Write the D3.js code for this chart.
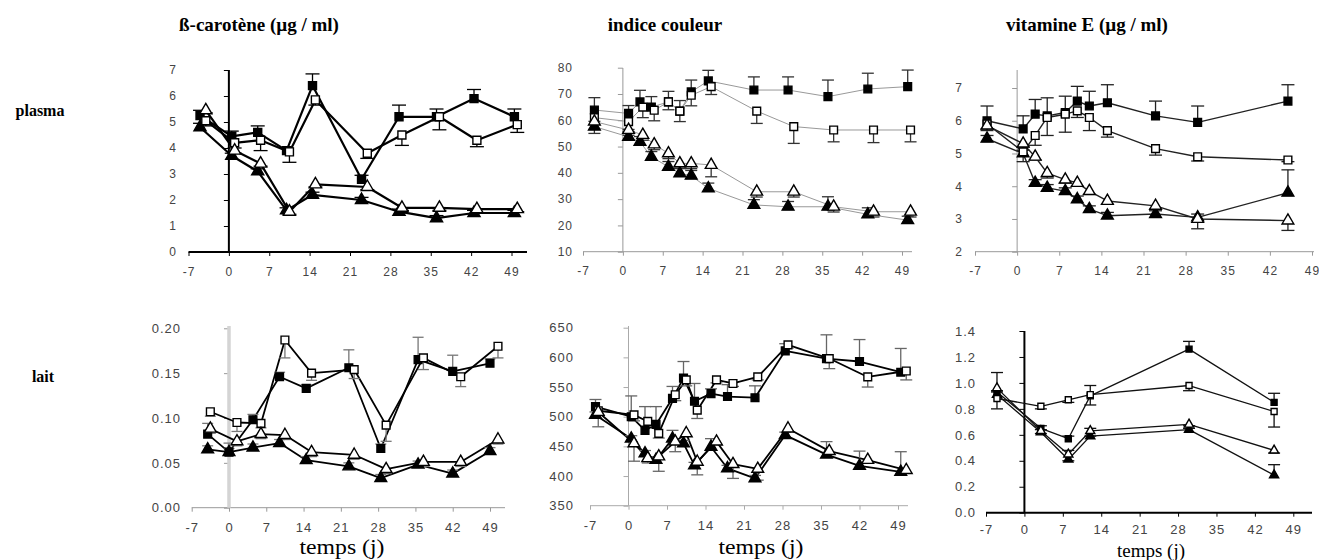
<!DOCTYPE html>
<html lang="fr">
<head>
<meta charset="utf-8">
<title>ß-carotène, indice couleur, vitamine E</title>
<script src="https://d3js.org/d3.v7.min.js"></script>
<style>
  body { margin: 0; background: #fff; }
  .head { font: bold 19px "Liberation Serif", "Times New Roman", serif; fill: #000; }
  .xlab { font: 20px "Liberation Serif", "Times New Roman", serif; fill: #000; }
  .tick text { font-family: "Liberation Sans", Arial, sans-serif; fill: #444; letter-spacing: 1px; }
</style>
</head>
<body>
<script>
"use strict";

// ---- data ----
const xTicks = [-7, 0, 7, 14, 21, 28, 35, 42, 49];
const colTitles = ["ß-carotène (µg / ml)", "indice couleur", "vitamine E (µg / ml)"];
const rowTitles = ["plasma", "lait"];

// ß-carotène, plasma
const bcpDaysF = [-5, 0.5, 5, 10, 14.5, 23, 29.5, 36, 42.5, 49.5];
const bcpDaysO = [-4, 1, 5.5, 10.5, 15, 24, 30, 36.5, 43, 50];
const bcpFS = [5.25, 4.45, 4.6, 3.9, 6.4, 2.8, 5.2, 5.2, 5.9, 5.2];
const bcpFSErr = [0.2, 0.2, 0.25, 0.1, 0.45, 0.15, 0.45, 0.3, 0.35, 0.3];
const bcpOS = [5.05, 4.2, 4.3, 3.85, 5.85, 3.8, 4.5, 5.2, 4.3, 4.9];
const bcpOSErr = [0.2, 0.2, 0.4, 0.4, 0.2, 0.2, 0.4, 0.5, 0.25, 0.3];
const bcpFT = [4.8, 3.7, 3.1, 1.6, 2.2, 2.0, 1.55, 1.3, 1.5, 1.5];
const bcpFTErr = [0.15, 0.1, 0.1, 0.1, 0.1, 0.1, 0.1, 0.1, 0.1, 0.1];
const bcpOT = [5.45, 3.9, 3.4, 1.55, 2.6, 2.5, 1.7, 1.7, 1.65, 1.65];
const bcpOTErr = [0.1, 0.1, 0.1, 0.1, 0.1, 0.1, 0.1, 0.1, 0.15, 0.1];

// indice couleur, plasma
const icpDaysF = [-5, 1, 3, 5, 8, 10, 12, 15, 23, 29, 36, 43, 50];
const icpDaysO = [-5, 1, 3.5, 5.5, 8, 10, 12, 15.5, 23.5, 30, 37, 44, 50.5];
const icpFS = [63.9, 62.6, 67, 65, 67, 63.5, 70.8, 75, 71.5, 71.5, 69, 71.9, 72.8];
const icpFSErr = [4.7, 3, 4.4, 4, 4, 4, 4.5, 4, 5, 5, 6.3, 6, 6.3];
const icpOS = [61, 59.5, 65, 63.8, 67, 63.5, 69.5, 72.8, 63.5, 57.6, 56.3, 56.3, 56.3];
const icpOSErr = [6, 3, 4, 4, 3, 4, 4, 3, 4.7, 6.4, 4.5, 4.8, 4.5];
const icpFT = [57.6, 53.7, 51.8, 46.1, 42.3, 39.8, 38.9, 34.1, 27.8, 27.1, 27.1, 24.2, 22];
const icpFTErr = [2, 2, 2, 2, 2, 2, 2, 2, 2, 2, 3.8, 2.5, 1.5];
const icpOT = [59.5, 56.3, 54.4, 50.8, 47.4, 43.6, 43.6, 43, 32.8, 32.8, 27.1, 25.2, 25.2];
const icpOTErr = [3, 2, 2, 2, 2, 2, 2, 4.5, 2, 2, 2, 2, 2];

// vitamine E, plasma
const vepDays = [-5, 1, 3, 5, 8, 10, 12, 15, 23, 30, 45];
const vepFS = [6.0, 5.75, 6.2, 6.15, 6.25, 6.6, 6.45, 6.55, 6.15, 5.95, 6.6];
const vepFSErr = [0.45, 0.4, 0.45, 0.55, 0.5, 0.45, 0.45, 0.55, 0.45, 0.5, 0.5];
const vepOS = [5.9, 5.05, 5.55, 6.1, 6.2, 6.3, 6.1, 5.7, 5.15, 4.9, 4.8];
const vepOSErr = [0.2, 0.3, 0.3, 0.55, 0.55, 0.2, 0.4, 0.2, 0.2, 0.13, 0.05];
const vepFT = [5.45, 5.0, 4.1, 3.95, 3.85, 3.6, 3.3, 3.1, 3.15, 3.05, 3.8];
const vepFTErr = [0.1, 0.1, 0.1, 0.1, 0.1, 0.1, 0.1, 0.1, 0.1, 0.1, 0.7];
const vepOT = [5.85, 5.3, 4.9, 4.4, 4.2, 4.1, 3.85, 3.55, 3.4, 3.0, 2.95];
const vepOTErr = [0.1, 0.1, 0.1, 0.15, 0.1, 0.1, 0.1, 0.1, 0.1, 0.3, 0.3];

// ß-carotène, lait
const bclDaysF = [-4, 0, 4.5, 9.5, 14.5, 22.5, 28.5, 35.5, 42, 49];
const bclDaysO = [-3.5, 1.5, 6, 10.5, 15.5, 23.5, 29.5, 36.5, 43.5, 50.5];
const bclFS = [0.082, 0.062, 0.098, 0.146, 0.133, 0.156, 0.066, 0.165, 0.152, 0.161];
const bclFSErr = [0.012, 0.01, 0.006, 0.005, 0.004, 0.02, 0.005, 0.025, 0.018, 0.005];
const bclOS = [0.107, 0.095, 0.094, 0.187, 0.150, 0.154, 0.092, 0.167, 0.146, 0.180];
const bclOSErr = [0.005, 0.01, 0.005, 0.02, 0.008, 0.01, 0.018, 0.013, 0.011, 0.013];
const bclFT = [0.065, 0.062, 0.067, 0.072, 0.053, 0.046, 0.033, 0.048, 0.038, 0.063];
const bclFTErr = [0.004, 0.004, 0.004, 0.004, 0.004, 0.004, 0.004, 0.004, 0.004, 0.004];
const bclOT = [0.088, 0.074, 0.082, 0.081, 0.062, 0.059, 0.043, 0.051, 0.051, 0.076];
const bclOTErr = [0.005, 0.005, 0.005, 0.005, 0.005, 0.005, 0.005, 0.005, 0.005, 0.005];

// indice couleur, lait
const iclDaysF = [-6, 0.5, 3, 5, 8, 10, 12, 15, 18, 23, 28.5, 36, 42, 49.5];
const iclDaysO = [-5.5, 1, 3.5, 5.5, 8.5, 10.5, 12.5, 16, 19, 23.5, 29, 36.5, 43.5, 50.5];
const iclFS = [517, 500, 477, 487, 531, 565, 526, 539, 534, 532, 611, 598, 593, 575];
const iclFSErr = [12, 35, 40, 30, 20, 28, 30, 8, 20, 20, 12, 40, 37, 40];
const iclOS = [510, 503, 492, 472, 537, 562, 511, 562, 556, 567, 621, 598, 567, 577];
const iclOSErr = [27, 10, 8, 8, 10, 10, 14, 5, 5, 5, 5, 17, 17, 15];
const iclFT = [503, 463, 438, 427, 463, 455, 418, 449, 413, 396, 469, 436, 417, 407];
const iclFTErr = [5, 5, 5, 5, 14, 5, 5, 14, 5, 5, 5, 22, 25, 34];
const iclOT = [508, 455, 430, 433, 458, 472, 424, 458, 420, 412, 480, 442, 427, 410];
const iclOTErr = [5, 30, 8, 25, 17, 5, 22, 5, 24, 19, 5, 5, 5, 5];

// vitamine E, lait
const velDays = [-5, 3, 8, 12, 30, 45.5];
const velFS = [0.93, 0.65, 0.57, 0.90, 1.26, 0.85];
const velFSErr = [0.15, 0.02, 0.02, 0.08, 0.06, 0.07];
const velOS = [0.88, 0.82, 0.87, 0.91, 0.98, 0.78];
const velOSErr = [0.08, 0.02, 0.02, 0.08, 0.04, 0.12];
const velOT = [0.96, 0.63, 0.45, 0.63, 0.68, 0.48];
const velOTErr = [0.03, 0.02, 0.05, 0.04, 0.03, 0.02];
const velFT = [0.91, 0.62, 0.41, 0.59, 0.64, 0.29];
const velFTErr = [0.03, 0.02, 0.07, 0.06, 0.03, 0.08];

// ---- drawing ----
const W = 1319, H = 560;
const svg = d3.select("body").append("svg")
    .attr("width", W)
    .attr("height", H)
    .style("display", "block");

// column and row headings
const colX = [259, 665, 1087];
colTitles.forEach((t, i) => {
    svg.append("text").attr("class", "head")
        .attr("x", colX[i]).attr("y", 31)
        .attr("text-anchor", "middle").text(t);
});
const rowY = [116, 382];
const rowX = [40, 43];
rowTitles.forEach((t, i) => {
    svg.append("text").attr("class", "head")
        .style("font-size", "16px")
        .attr("x", rowX[i]).attr("y", rowY[i])
        .attr("text-anchor", "middle").text(t);
});

// build series list: filled square, open square, filled triangle, open triangle
function series(dF, dO, fs, fsE, os, osE, ft, ftE, ot, otE) {
    return [
        { days: dF, vals: fs, errs: fsE, shape: d3.symbolSquare, filled: true, dir: 1 },
        { days: dO, vals: os, errs: osE, shape: d3.symbolSquare, filled: false, dir: -1 },
        { days: dF, vals: ft, errs: ftE, shape: d3.symbolTriangle, filled: true, dir: 1 },
        { days: dO, vals: ot, errs: otE, shape: d3.symbolTriangle, filled: false, dir: -1 }
    ];
}

const panels = [
    { xl: 188.5, xr: 511.5, xEnd: 527, yb: 252, yt: 70, yDomain: [0, 7], yTicks: d3.range(0, 8), fmt: d => d,
      axisTop: 70, labRight: 177, axisCol: "#000", axisW: 2, yAxisCol: "#000", yAxisW: 2,
      lineCol: "#000", lineW: 2.2, errCol: "#000", cap: 14, ms: 64, font: 12, pad: 11,
      data: series(bcpDaysF, bcpDaysO, bcpFS, bcpFSErr, bcpOS, bcpOSErr, bcpFT, bcpFTErr, bcpOT, bcpOTErr) },
    { xl: 583, xr: 902, xEnd: 912, yb: 251.7, yt: 67.7, yDomain: [10, 80], yTicks: d3.range(10, 90, 10), fmt: d => d,
      axisTop: 68, labRight: 573, axisCol: "#999", axisW: 1, yAxisCol: "#999", yAxisW: 1,
      lineCol: "#999", lineW: 1, errCol: "#333", cap: 12, ms: 60, font: 12, pad: 11,
      data: series(icpDaysF, icpDaysO, icpFS, icpFSErr, icpOS, icpOSErr, icpFT, icpFTErr, icpOT, icpOTErr) },
    { xl: 975, xr: 1312, xEnd: 1314, yb: 251.7, yt: 88, yDomain: [2, 7], yTicks: d3.range(2, 8), fmt: d => d,
      axisTop: 70, labRight: 963, axisCol: "#999", axisW: 1, yAxisCol: "#999", yAxisW: 1,
      lineCol: "#222", lineW: 1.4, errCol: "#222", cap: 13, ms: 60, font: 12, pad: 11,
      data: series(vepDays, vepDays, vepFS, vepFSErr, vepOS, vepOSErr, vepFT, vepFTErr, vepOT, vepOTErr) },
    { xl: 191.7, xr: 490, xEnd: 505, yb: 507.7, yt: 328.3, yDomain: [0, 0.2], yTicks: [0, 0.05, 0.1, 0.15, 0.2], fmt: d3.format(".2f"),
      axisTop: 326, labRight: 181, axisCol: "#999", axisW: 1, yAxisCol: "#d4d4d4", yAxisW: 3.5,
      lineCol: "#000", lineW: 1.8, errCol: "#777", cap: 11, ms: 60, font: 13, pad: 11,
      xlabel: { x: 342, y: 554, len: 85, size: 20 },
      data: series(bclDaysF, bclDaysO, bclFS, bclFSErr, bclOS, bclOSErr, bclFT, bclFTErr, bclOT, bclOTErr) },
    { xl: 590, xr: 898, xEnd: 908, yb: 505.7, yt: 327.7, yDomain: [350, 650], yTicks: d3.range(350, 700, 50), fmt: d => d,
      axisTop: 326, labRight: 574, axisCol: "#aaa", axisW: 1, yAxisCol: "#aaa", yAxisW: 1,
      lineCol: "#000", lineW: 1.8, errCol: "#666", cap: 12, ms: 60, font: 13, pad: 11,
      xlabel: { x: 761, y: 554, len: 85, size: 20 },
      data: series(iclDaysF, iclDaysO, iclFS, iclFSErr, iclOS, iclOSErr, iclFT, iclFTErr, iclOT, iclOTErr) },
    { xl: 986, xr: 1293.3, xEnd: 1312, yb: 512.7, yt: 331, yDomain: [0, 1.4], yTicks: [0, 0.2, 0.4, 0.6, 0.8, 1.0, 1.2, 1.4], fmt: d3.format(".1f"),
      axisTop: 331, labRight: 976, axisCol: "#000", axisW: 2, yAxisCol: "#000", yAxisW: 2,
      lineCol: "#111", lineW: 1.3, errCol: "#111", cap: 12, ms: 36, font: 13, pad: 8,
      xlabel: { x: 1151, y: 557, len: 68, size: 18 },
      data: series(velDays, velDays, velFS, velFSErr, velOS, velOSErr, velFT, velFTErr, velOT, velOTErr) }
];

panels.forEach(drawPanel);

function drawPanel(p) {
    const g = svg.append("g");
    const x = d3.scaleLinear().domain([-7, 49]).range([p.xl, p.xr]);
    const y = d3.scaleLinear().domain(p.yDomain).range([p.yb, p.yt]);

    // x axis: ticks + labels (plain hyphen for -7), hand-drawn base line
    const gx = g.append("g")
        .attr("transform", "translate(0," + p.yb + ")")
        .call(d3.axisBottom(x).tickValues(xTicks).tickSize(4).tickPadding(p.pad).tickFormat(d => String(d)));
    gx.select(".domain").remove();
    gx.selectAll(".tick line").attr("stroke", p.axisCol);
    gx.selectAll(".tick text").style("font-size", p.font + "px");
    g.append("line")
        .attr("x1", x(-7)).attr("x2", p.xEnd)
        .attr("y1", p.yb).attr("y2", p.yb)
        .attr("stroke", p.axisCol).attr("stroke-width", p.axisW);

    // y axis line sits on day 0, labels stay at the left
    const gy = g.append("g")
        .attr("transform", "translate(" + x(0) + ",0)")
        .call(d3.axisLeft(y).tickValues(p.yTicks).tickSize(5).tickFormat(""));
    gy.select(".domain").remove();
    gy.selectAll(".tick line").attr("stroke", p.yAxisCol === "#d4d4d4" ? "#999" : p.yAxisCol);
    g.append("line")
        .attr("x1", x(0)).attr("x2", x(0))
        .attr("y1", p.yb).attr("y2", p.axisTop)
        .attr("stroke", p.yAxisCol).attr("stroke-width", p.yAxisW);

    const gl = g.append("g")
        .attr("transform", "translate(" + p.labRight + ",0)")
        .call(d3.axisLeft(y).tickValues(p.yTicks).tickSize(0).tickPadding(0).tickFormat(p.fmt));
    gl.select(".domain").remove();
    gl.selectAll(".tick text").style("font-size", p.font + "px");

    if (p.xlabel) {
        g.append("text").attr("class", "xlab")
            .style("font-size", p.xlabel.size + "px")
            .attr("x", p.xlabel.x).attr("y", p.xlabel.y)
            .attr("text-anchor", "middle")
            .attr("textLength", p.xlabel.len)
            .attr("lengthAdjust", "spacingAndGlyphs")
            .text("temps (j)");
    }

    const line = d3.line()
        .x(d => x(d.day))
        .y(d => y(d.v));

    const pts = p.data.map(s => s.vals.map((v, i) => ({ day: s.days[i], v: v, e: s.errs[i], s: s })));

    // lines
    g.selectAll("path.series")
        .data(pts)
        .enter()
        .append("path")
        .attr("class", "series")
        .attr("d", line)
        .attr("fill", "none")
        .attr("stroke", p.lineCol)
        .attr("stroke-width", p.lineW)
        .attr("stroke-linejoin", "round");

    // error bars
    const all = pts.flat();
    const eb = g.selectAll("g.err")
        .data(all)
        .enter()
        .append("g")
        .attr("class", "err")
        .attr("stroke", p.errCol)
        .attr("stroke-width", 1.3);
    eb.append("line")
        .attr("x1", d => x(d.day)).attr("x2", d => x(d.day))
        .attr("y1", d => y(d.v)).attr("y2", d => y(d.v + d.s.dir * d.e));
    eb.append("line")
        .attr("x1", d => x(d.day) - p.cap / 2).attr("x2", d => x(d.day) + p.cap / 2)
        .attr("y1", d => y(d.v + d.s.dir * d.e)).attr("y2", d => y(d.v + d.s.dir * d.e));

    // markers, filled ones first so open ones sit on top
    const order = all.slice().sort((a, b) => (a.s.filled === b.s.filled) ? 0 : (a.s.filled ? -1 : 1));
    g.selectAll("path.mk")
        .data(order)
        .enter()
        .append("path")
        .attr("class", "mk")
        .attr("transform", d => "translate(" + x(d.day) + "," + y(d.v) + ")")
        .attr("d", d => d3.symbol().type(d.s.shape).size(p.ms)())
        .attr("fill", d => d.s.filled ? "#000" : "#fff")
        .attr("stroke", "#000")
        .attr("stroke-width", 1.4);
}
</script>
</body>
</html>
